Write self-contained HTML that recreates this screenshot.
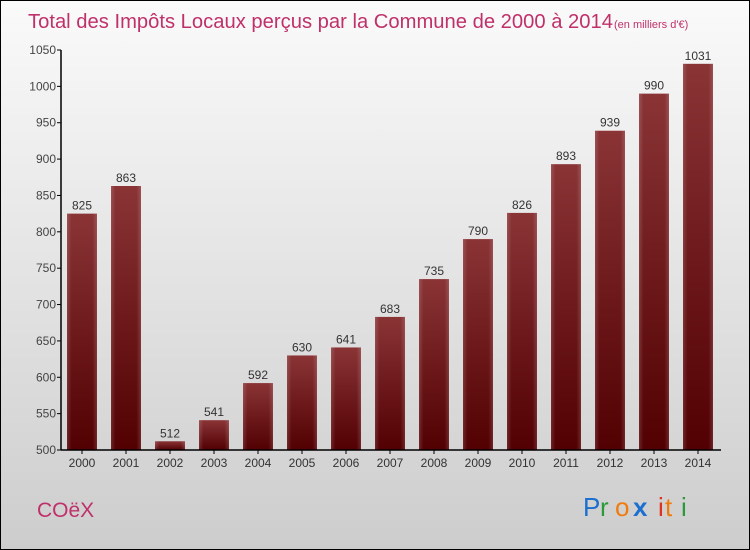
<!DOCTYPE html>
<html><head><meta charset="utf-8"><style>
body{margin:0}
#c{width:748px;height:548px;border:1px solid #000;background:linear-gradient(#fafafa,#cdcdcd);position:relative;font-family:"Liberation Sans",sans-serif;overflow:hidden}
</style></head><body>
<div id="c">
<svg width="748" height="548" id="s">
<defs>
<linearGradient id="bg" x1="0" y1="0" x2="0" y2="1"><stop offset="0" stop-color="#8a3436"/><stop offset="1" stop-color="#520002"/></linearGradient>
<linearGradient id="bh" x1="0" y1="0" x2="1" y2="0"><stop offset="0" stop-color="#fff" stop-opacity="0.15"/><stop offset="0.15" stop-color="#fff" stop-opacity="0"/><stop offset="0.85" stop-color="#fff" stop-opacity="0"/><stop offset="1" stop-color="#fff" stop-opacity="0.15"/></linearGradient>
</defs>
<text x="27" y="27" font-size="20" fill="#c0306a" textLength="585" lengthAdjust="spacingAndGlyphs">Total des Impôts Locaux perçus par la Commune de 2000 à 2014</text>
<text x="613" y="27" font-size="11" fill="#c0306a">(en milliers d'€)</text>
<text x="36" y="516" font-size="21" fill="#c0306a">COëX</text>
<g id="g"></g>
<g font-size="26" font-family="'Liberation Sans',sans-serif">
<text x="582" y="515" fill="#1a6fcf">P</text><text x="599" y="515" fill="#2a9a3a">r</text><text x="614" y="515" fill="#f07c10">o</text><text x="632" y="515" fill="#1a6fcf" font-weight="bold">x</text><text x="657" y="515" fill="#e03020">i</text><text x="664" y="515" fill="#f07c10">t</text><text x="680" y="515" fill="#2a9a3a">i</text>
</g>
</svg></div>
<script>
const years=["2000","2001","2002","2003","2004","2005","2006","2007","2008","2009","2010","2011","2012","2013","2014"];
const values=[825,863,512,541,592,630,641,683,735,790,826,893,939,990,1031];
const ticks=[500,550,600,650,700,750,800,850,900,950,1000,1050];
const ns="http://www.w3.org/2000/svg",g=document.getElementById('g');
const y=v=>449-(v-500)*400/550, x=i=>81+i*44;
function mk(t,a,txt){const e=document.createElementNS(ns,t);for(const k in a)e.setAttribute(k,a[k]);if(txt!=null)e.textContent=txt;g.appendChild(e);return e;}
ticks.forEach(t=>{
 const l=mk('line',{x1:56,x2:60,y1:y(t),y2:y(t),stroke:'#000'});
 
 
 const tx=mk('text',{x:55,y:y(t)+4,'text-anchor':'end','font-size':12,fill:'#444'},t);
 
 
});
values.forEach((v,i)=>{
 const r=mk('rect',{x:x(i)-15,y:y(v),width:30,height:449-y(v),fill:'url(#bg)'});
 
 
 mk('rect',{x:x(i)-15,y:y(v),width:30,height:449-y(v),fill:'url(#bh)'});
 const vl=mk('text',{x:x(i),y:y(v)-4,'text-anchor':'middle','font-size':12,fill:'#333'},v);
 
 
 const tk=mk('line',{x1:x(i),x2:x(i),y1:449,y2:453,stroke:'#000'});
 
 
 const xl=mk('text',{x:x(i),y:466,'text-anchor':'middle','font-size':12,fill:'#333'},years[i]);
 
 
});
const ya=mk('line',{x1:60,x2:60,y1:y(1050),y2:449.5,stroke:'#000','stroke-width':1.5});


const xa=mk('line',{x1:60,x2:720,y1:449,y2:449,stroke:'#000','stroke-width':1.5});


</script>
</body></html>
